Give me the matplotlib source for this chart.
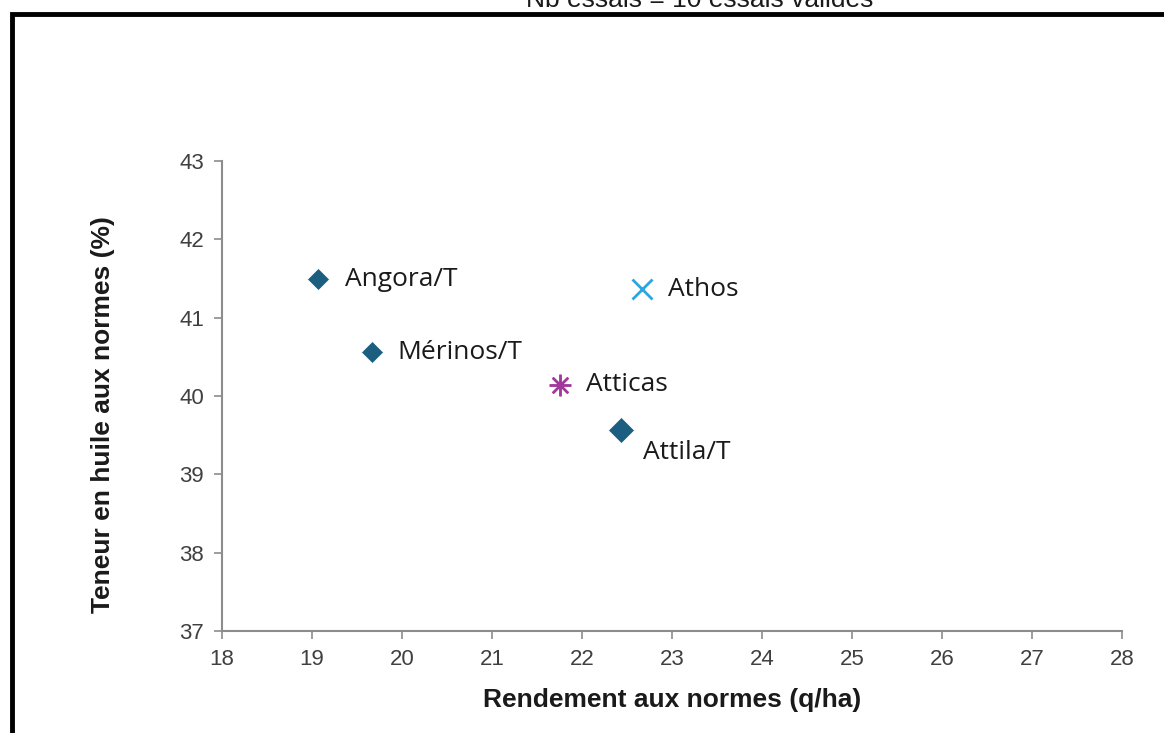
import matplotlib.pyplot as plt
from matplotlib.patches import Rectangle

varietes = ["Angora/T", "Mérinos/T", "Atticas", "Attila/T", "Athos"]
rendement = [19.07, 19.67, 21.76, 22.43, 22.67]
teneur = [41.49, 40.56, 40.14, 39.57, 41.37]
marqueurs = ["D", "D", "$\u2733$", "D", "x"]
couleurs = ["#1b5e80", "#1b5e80", "#a0399a", "#1b5e80", "#2ba6de"]
tailles = [11, 11, 15, 13, 15]
decalages = [(27, 0), (25, 0), (26, 0), (22, -23), (26, -1)]

plt.rcParams["font.family"] = ["Liberation Sans", "DejaVu Sans"]

fig = plt.figure(figsize=(11.64, 7.33), dpi=100)
ax = fig.add_axes([0.1907, 0.1392, 0.9639 - 0.1907, 0.7804 - 0.1392])

for nom, x, y, m, c, s, d in zip(varietes, rendement, teneur, marqueurs, couleurs, tailles, decalages):
    if m == "x":
        ax.plot(x, y, marker=m, color=c, markersize=s, markeredgewidth=2, linestyle="none")
    elif m == "D":
        ax.plot(x, y, marker=m, color=c, markersize=s, markeredgecolor="white", markeredgewidth=0.5, linestyle="none")
    else:
        ax.plot(x, y, marker=m, color=c, markersize=s, linestyle="none")
    ax.annotate(nom, (x, y), xytext=d, textcoords="offset pixels",
                ha="left", va="center", fontsize=19, family=["Open Sans", "DejaVu Sans"], color="#1a1a1a")

ax.set_xlim(18, 28)
ax.set_ylim(37, 43)
ax.set_xticks(range(18, 29))
ax.set_yticks(range(37, 44))
ax.spines["top"].set_visible(False)
ax.spines["right"].set_visible(False)
for s in ["left", "bottom"]:
    ax.spines[s].set_color("#8c8c8c")
    ax.spines[s].set_linewidth(1.5)
ax.tick_params(direction="out", length=6, width=1.2, color="#8c8c8c", labelsize=16, labelcolor="#404040", pad=7)

ax.set_xlabel("Rendement aux normes (q/ha)", fontsize=19, fontweight="bold", color="#1a1a1a", va="center")
ax.set_ylabel("Teneur en huile aux normes (%)", fontsize=19, fontweight="bold", color="#1a1a1a", va="center")
ax.xaxis.set_label_coords(0.5, -0.147)
ax.yaxis.set_label_coords(-0.132, 0.46)

# cadre noir autour du graphique (coupé en bas et à droite)
fig.patches.append(Rectangle((12 / 1164, -0.1), 1.2, 1 - 14 / 733 + 0.1, transform=fig.transFigure,
                             fill=False, edgecolor="black", linewidth=3.5))
fig.text(0.601, 1 - 7 / 733, "Nb essais = 10 essais valides", ha="center", va="baseline", fontsize=19, color="#1a1a1a")

fig.savefig("out.png", dpi=100)
